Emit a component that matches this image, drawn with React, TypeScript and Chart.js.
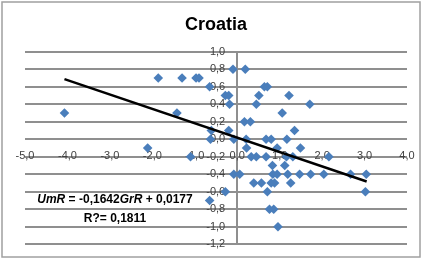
import { useEffect, useRef } from 'react';
import { Chart, registerables } from 'chart.js';

Chart.register(...registerables);

const TITLE = 'Croatia';
const X_TICKS = [-5, -4, -3, -2, -1, 0, 1, 2, 3, 4];
const X_TICK_LABELS = ['-5,0', '-4,0', '-3,0', '-2,0', '-1,0', '0,0', '1,0', '2,0', '3,0', '4,0'];
const Y_TICKS = [1.0, 0.8, 0.6, 0.4, 0.2, 0.0, -0.2, -0.4, -0.6, -0.8, -1.0, -1.2];
const Y_TICK_LABELS = ['1,0', '0,8', '0,6', '0,4', '0,2', '0,0', '-0,2', '-0,4', '-0,6', '-0,8', '-1,0', '-1,2'];

// GrR (x) and UmR (y) observations
const GRR = [
  -4.07, -1.86, -1.30, -0.97, -0.90, -1.42, -2.11, -1.10, -0.65, -0.28,
  -0.20, -0.18, -0.10, 0.19, -0.61, -0.63, -0.20, -0.08, -0.28, -0.65,
  -0.08, 0.06, 0.17, 0.31, 0.21, 0.22, 0.33, 0.45, 0.39, 0.57,
  0.45, 0.51, 0.64, 0.71, 0.68, 0.80, 0.68, 0.83, 0.71, 0.76,
  0.86, 0.84, 0.94, 0.80, 0.96, 0.94, 1.06, 1.17, 1.12, 1.16,
  1.19, 1.22, 1.26, 1.31, 1.35, 1.47, 1.49, 1.71, 1.73, 2.04,
  2.16, 2.67, 3.04, 3.02, 0.88,
];
const UMR = [
  0.3, 0.7, 0.7, 0.7, 0.7, 0.3, -0.1, -0.2, 0.6, 0.5,
  0.5, 0.4, 0.8, 0.8, 0.1, 0.0, 0.1, 0.0, -0.6, -0.7,
  -0.4, -0.4, 0.2, 0.2, 0.0, -0.1, -0.2, -0.2, -0.5, -0.5,
  0.4, 0.5, 0.6, 0.6, 0.0, 0.0, -0.2, -0.3, -0.6, -0.8,
  -0.8, -0.4, -0.4, -0.5, -1.0, -0.1, 0.3, 0.0, -0.3, -0.2,
  -0.4, 0.5, -0.5, -0.2, 0.1, -0.4, -0.1, 0.4, -0.4, -0.4,
  -0.2, -0.4, -0.4, -0.6, -0.5,
];

const TREND_SLOPE = -0.1642;
const TREND_INTERCEPT = 0.0177;
const TREND_X = [-4.07, 3.05];
const EQ_PARTS: [string, boolean][] = [
  ['UmR', true],
  [' = -0,1642', false],
  ['GrR', true],
  [' + 0,0177', false],
];
const R2_TEXT = 'R?= 0,1811';

const FONT = '"Liberation Sans", Arial, sans-serif';
const GRID = '#8f8f8f';
const LABEL = '#404040';

const overlay = {
  id: 'overlay',
  beforeDatasetsDraw(chart: any) {
    const { ctx, scales } = chart;
    const xs = scales.x;
    const ys = scales.y;
    const x0 = xs.getPixelForValue(0);
    const y0 = ys.getPixelForValue(0);
    ctx.save();
    ctx.fillStyle = LABEL;
    ctx.font = `11px ${FONT}`;
    ctx.textAlign = 'center';
    ctx.textBaseline = 'middle';
    X_TICKS.forEach((v, i) => {
      ctx.fillText(X_TICK_LABELS[i], xs.getPixelForValue(v), y0 + 17);
    });
    ctx.textAlign = 'right';
    Y_TICKS.forEach((v, i) => {
      ctx.fillText(Y_TICK_LABELS[i], x0 - 12, ys.getPixelForValue(v));
    });
    ctx.restore();
  },
  afterDraw(chart: any) {
    const { ctx } = chart;
    ctx.save();
    // outer frame
    ctx.strokeStyle = '#a0a0a0';
    ctx.lineWidth = 1.5;
    ctx.strokeRect(2, 2, 418, 255);
    // equation
    ctx.fillStyle = '#000';
    ctx.textBaseline = 'middle';
    ctx.textAlign = 'left';
    const fontFor = (it: boolean) => `${it ? 'italic ' : ''}bold 12px ${FONT}`;
    let total = 0;
    EQ_PARTS.forEach(([t, it]) => {
      ctx.font = fontFor(it);
      total += ctx.measureText(t).width;
    });
    const cx = 115;
    let x = cx - total / 2;
    EQ_PARTS.forEach(([t, it]) => {
      ctx.font = fontFor(it);
      ctx.fillText(t, x, 200);
      x += ctx.measureText(t).width;
    });
    ctx.font = fontFor(false);
    ctx.textAlign = 'center';
    ctx.fillText(R2_TEXT, cx, 219);
    ctx.restore();
  },
};

export default function App() {
  const ref = useRef<HTMLCanvasElement>(null);
  useEffect(() => {
    if (!ref.current) return;
    const points = GRR.map((x, i) => ({ x, y: UMR[i] }));
    const trend = TREND_X.map((x) => ({ x, y: TREND_SLOPE * x + TREND_INTERCEPT }));
    const chart = new Chart(ref.current, {
      type: 'scatter',
      data: {
        datasets: [
          {
            type: 'line',
            label: 'Trend',
            data: trend,
            borderColor: '#000',
            borderWidth: 2.5,
            pointRadius: 0,
            fill: false,
          } as any,
          {
            label: 'UmR',
            data: points,
            pointStyle: 'rectRot',
            pointRadius: 4.8,
            backgroundColor: '#4a7ebb',
            borderColor: '#4a7ebb',
            borderWidth: 0,
          },
        ],
      },
      options: {
        animation: false,
        responsive: false,
        devicePixelRatio: 1,
        layout: { padding: { left: 25, right: 15, top: 0.9, bottom: 14.7 } },
        plugins: {
          legend: { display: false },
          tooltip: { enabled: false },
          title: {
            display: true,
            text: TITLE,
            color: '#000',
            font: { size: 18, weight: 'bold', family: FONT },
            padding: { top: 13.5, bottom: 15.7 },
          },
        },
        scales: {
          x: {
            type: 'linear',
            min: -5,
            max: 4,
            ticks: { display: false, stepSize: 1 },
            border: { display: false },
            grid: {
              drawTicks: false,
              color: (c: any) => (c.tick && Math.abs(c.tick.value) < 1e-9 ? GRID : 'rgba(0,0,0,0)'),
              lineWidth: 2,
            },
            afterFit: (s: any) => { s.height = 0; },
          },
          y: {
            type: 'linear',
            min: -1.2,
            max: 1.0,
            ticks: { display: false, stepSize: 0.2 },
            border: { display: false },
            grid: { drawTicks: false, color: GRID, lineWidth: 2 },
            afterFit: (s: any) => { s.width = 0; },
          },
        },
      },
      plugins: [overlay],
    });
    return () => chart.destroy();
  }, []);
  return (
    <div style={{ position: 'absolute', left: 0, top: 0, width: 422, height: 259, background: '#fff' }}>
      <canvas ref={ref} width={422} height={259} style={{ display: 'block' }} />
    </div>
  );
}
